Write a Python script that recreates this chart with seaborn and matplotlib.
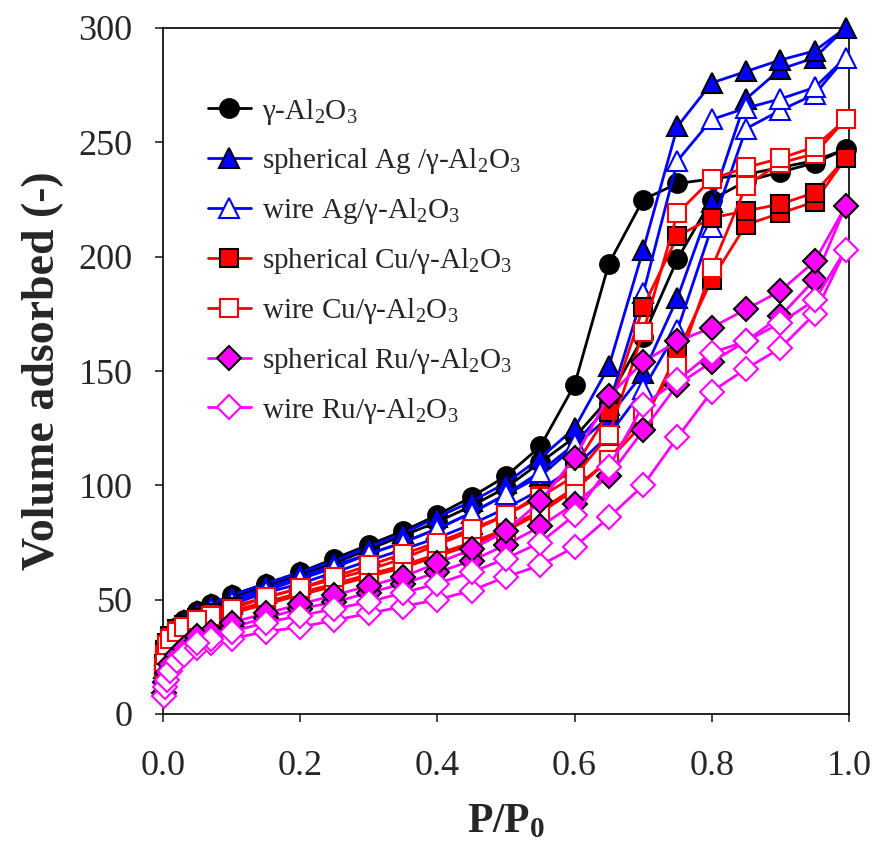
import numpy as np
import pandas as pd
import matplotlib
matplotlib.use("Agg")
import matplotlib.pyplot as plt
import seaborn as sns

# ---------------- data ----------------
P_ads = [0.001, 0.003, 0.006, 0.01, 0.02, 0.03, 0.05, 0.07, 0.1, 0.15, 0.2, 0.25, 0.3, 0.35,
         0.4, 0.45, 0.5, 0.55, 0.6, 0.65, 0.7, 0.75, 0.8, 0.85, 0.9, 0.95, 0.995]
P_des = [0.95, 0.9, 0.85, 0.8, 0.75, 0.7, 0.65, 0.6, 0.55, 0.5, 0.45, 0.4, 0.35, 0.3,
         0.25, 0.2, 0.15, 0.1, 0.07, 0.05]

labels = [
    "γ-Al$_2$O$_3$",
    "spherical Ag /γ-Al$_2$O$_3$",
    "wire Ag/γ-Al$_2$O$_3$",
    "spherical Cu/γ-Al$_2$O$_3$",
    "wire Cu/γ-Al$_2$O$_3$",
    "spherical Ru/γ-Al$_2$O$_3$",
    "wire Ru/γ-Al$_2$O$_3$",
]

al2o3_ads = [20, 26, 30, 34, 38, 41, 43, 47, 51, 56, 61, 66, 72, 78, 84, 91, 99, 110, 121, 138, 165, 199, 225, 233, 237, 241, 247]
al2o3_des = [242, 239, 236, 234, 232, 225, 197, 144, 117, 104, 95, 87, 80, 74, 68, 62, 57, 52, 48, 45]

sph_ag_ads = [20, 26, 30, 34, 38, 41, 43, 46, 50, 55, 60, 65, 70, 75, 81, 88, 96, 104, 117, 130, 149, 182, 224, 269, 282, 287, 300]
sph_ag_des = [290, 286, 281, 276, 257, 203, 152, 125, 112, 101, 93, 86, 79, 73, 67, 62, 57, 52, 48, 45]

wire_ag_ads = [18, 24, 28, 32, 36, 39, 42, 45, 48, 53, 57, 62, 67, 72, 77, 83, 90, 98, 108, 122, 142, 168, 213, 256, 264, 271, 287]
wire_ag_des = [274, 269, 265, 260, 242, 184, 135, 118, 106, 96, 88, 81, 75, 70, 64, 59, 54, 49, 46, 43]

sph_cu_ads = [22, 28, 31, 34, 37, 39, 41, 43, 45, 49, 53, 57, 61, 65, 70, 75, 81, 89, 99, 111, 127, 158, 190, 214, 219, 224, 243]
sph_cu_des = [228, 223, 220, 217, 209, 178, 132, 108, 96, 87, 80, 74, 68, 63, 59, 55, 51, 47, 44, 42]

wire_cu_ads = [20, 26, 30, 33, 36, 38, 40, 42, 44, 48, 52, 56, 60, 64, 69, 74, 80, 88, 98, 111, 131, 152, 195, 231, 241, 245, 260]
wire_cu_des = [248, 243, 239, 234, 219, 167, 122, 104, 95, 87, 81, 75, 70, 65, 60, 55, 51, 46, 43, 41]

sph_ru_ads = [9, 14, 18, 22, 26, 29, 32, 35, 38, 42, 46, 49, 53, 57, 62, 67, 74, 82, 92, 104, 124, 144, 154, 163, 174, 190, 222]
sph_ru_des = [198, 185, 177, 169, 163, 154, 139, 112, 93, 80, 72, 66, 60, 56, 52, 48, 44, 40, 36, 34]

wire_ru_ads = [8, 12, 15, 19, 23, 26, 29, 31, 33, 36, 38, 41, 44, 47, 50, 54, 60, 65, 73, 86, 100, 121, 141, 151, 160, 175, 203]
wire_ru_des = [181, 171, 163, 158, 146, 135, 108, 87, 75, 68, 62, 57, 53, 49, 46, 43, 40, 36, 33, 31]

series_ads = [al2o3_ads, sph_ag_ads, wire_ag_ads, sph_cu_ads, wire_cu_ads, sph_ru_ads, wire_ru_ads]
series_des = [al2o3_des, sph_ag_des, wire_ag_des, sph_cu_des, wire_cu_des, sph_ru_des, wire_ru_des]

# ---------------- styles ----------------
line_colors = ["black", "#0000FF", "#0000FF", "#FF0000", "#FF0000", "#FF00FF", "#FF00FF"]
face_colors = ["black", "#0000FF", "white", "#FF0000", "white", "#FF00FF", "white"]
edge_colors = ["black", "black", "#0000FF", "black", "#FF0000", "black", "#FF00FF"]
markers = ["o", "^", "^", "s", "s", "D", "D"]
msizes = [13.5, 15.0, 15.0, 13.5, 13.5, 12.0, 12.0]

sns.set_style("white")
plt.rcParams["font.family"] = ["Liberation Serif", "DejaVu Serif"]
plt.rcParams["mathtext.fontset"] = "custom"
plt.rcParams["mathtext.rm"] = "Liberation Serif"
plt.rcParams["mathtext.it"] = "Liberation Serif:italic"
plt.rcParams["mathtext.bf"] = "Liberation Serif:bold"
plt.rcParams["mathtext.default"] = "regular"

fig = plt.figure(figsize=(8.79, 8.66), dpi=100)
ax = fig.add_axes([163 / 879, 1 - 714 / 866, (849 - 163) / 879, (714 - 28) / 866])

for i, lab in enumerate(labels):
    df = pd.DataFrame({
        "P": list(P_ads) + list(P_des),
        "V": list(series_ads[i]) + list(series_des[i]),
        "series": lab,
    })
    sns.lineplot(data=df, x="P", y="V", sort=False, estimator=None, ax=ax,
                 color=line_colors[i], lw=2.0, marker=markers[i], markersize=msizes[i],
                 markerfacecolor=face_colors[i], markeredgecolor=edge_colors[i],
                 markeredgewidth=1.5, label=lab, clip_on=False, zorder=3 + i)

ax.set_xlim(0, 1.0)
ax.set_ylim(0, 300)
ax.set_xticks([0.0, 0.2, 0.4, 0.6, 0.8, 1.0])
ax.set_xticklabels(["0.0", "0.2", "0.4", "0.6", "0.8", "1.0"])
ax.set_yticks([0, 50, 100, 150, 200, 250, 300])
ax.tick_params(axis="both", direction="out", length=6, width=1.2, labelsize=26,
               bottom=True, left=True, top=False, right=False)
ax.tick_params(axis="x", pad=20)
ax.tick_params(axis="y", pad=16)
for sp in ax.spines.values():
    sp.set_linewidth(1.2)
    sp.set_color("black")

ax.set_xlabel(r"$\mathbf{P/P_0}$", fontsize=30, labelpad=14)
ax.set_ylabel("Volume adsorbed (-)", fontsize=33, fontweight="bold", labelpad=10)

leg = ax.legend(loc="upper left", bbox_to_anchor=(0.065, 0.90), frameon=False,
                fontsize=21, handlelength=1.5, handletextpad=0.35, labelspacing=0.68,
                borderpad=0, borderaxespad=0, numpoints=1)

fig.savefig("out.png", dpi=100)
